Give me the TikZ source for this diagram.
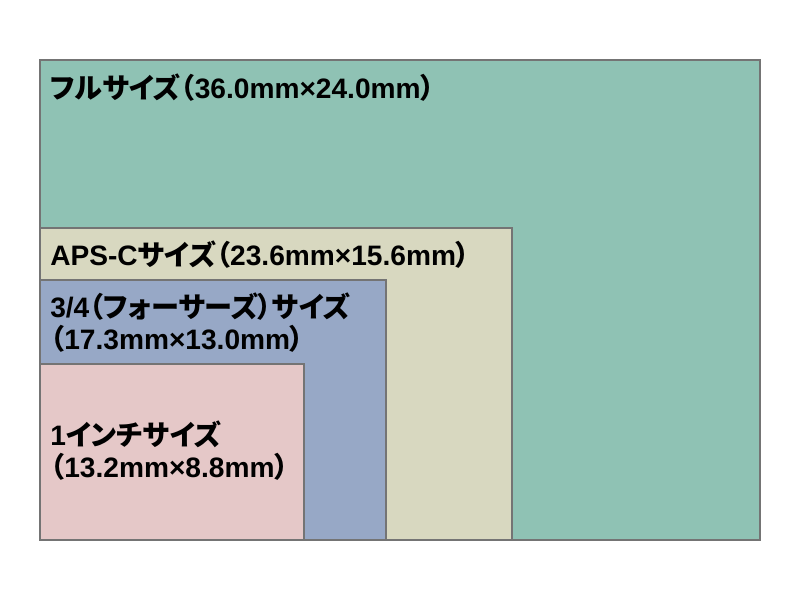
\documentclass[tikz,border=0pt]{standalone}
\usepackage{fontspec}
\usepackage{xcolor}
\usetikzlibrary{positioning}
\newfontfamily\jpfont{Noto Sans CJK JP}[RawFeature=+palt]
\newfontfamily\latfont{Liberation Sans}
\newcommand{\jp}[1]{{\jpfont #1}}
\definecolor{fullcol}{HTML}{8FC2B4}
\definecolor{apscol}{HTML}{D8D8C0}
\definecolor{mftcol}{HTML}{97A8C6}
\definecolor{inchcol}{HTML}{E5C8C8}
\definecolor{edgecol}{HTML}{747474}
\tikzset{
	sensor/.style={draw=edgecol, line width=0.8pt},
	sizelabel/.style={anchor=west, inner sep=0pt, align=left, font=\latfont\bfseries\fontsize{20}{23}\selectfont}
}

\begin{document}
\begin{tikzpicture}
			\useasboundingbox (0,0) rectangle (20,15);
			% 0.5cm per mm of sensor
			\coordinate (O) at (1,1.5);
			
			\draw[sensor, fill=fullcol] (O) rectangle +(18,12);
			\draw[sensor, fill=apscol] (O) rectangle +(11.8,7.8);
			\draw[sensor, fill=mftcol] (O) rectangle +(8.65,6.5);
			\draw[sensor, fill=inchcol] (O) rectangle +(6.6,4.4);
			
			\node[sizelabel] (full) at (1.25,12.8) {\jp{フルサイズ（}36.0mm×24.0mm\jp{）}};
			\node[sizelabel] (apsc) at (1.25,8.625) {APS-C\jp{サイズ（}23.6mm×15.6mm\jp{）}};
			\node[sizelabel] (mft) at (1.25,6.94) {3/4\jp{（フォーサーズ）サイズ}\\\jp{（}17.3mm×13.0mm\jp{）}};
			\node[sizelabel] (inch) at (1.25,3.74) {1\jp{インチサイズ}\\\jp{（}13.2mm×8.8mm\jp{）}};
		\end{tikzpicture}
\end{document}
